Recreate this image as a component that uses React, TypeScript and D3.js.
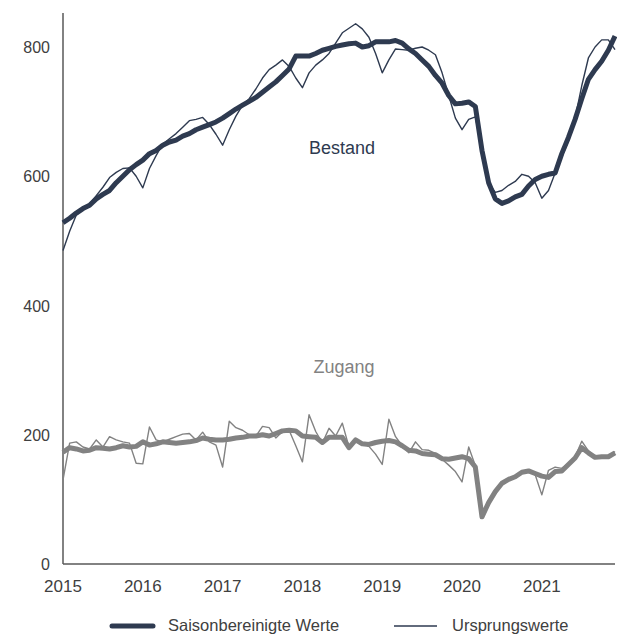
import React from 'react'
import * as d3 from 'd3'

// Monatswerte Jan 2015 - Dez 2021
const years = [2015, 2016, 2017, 2018, 2019, 2020, 2021]
const yTicks = [0, 200, 400, 600, 800]

const bestandSA = [
  528, 535, 543, 550, 555, 565, 572, 578, 590, 600, 610, 618,
  625, 635, 640, 648, 653, 656, 662, 666, 672, 676, 680, 684,
  690, 697, 704, 710, 716, 722, 730, 738, 746, 756, 766, 786,
  786, 786, 790, 795, 798, 801, 803, 805, 806, 800, 802, 808,
  808, 808, 810, 806, 797, 790, 780, 770, 756, 744, 725, 712,
  713, 715, 708, 640, 590, 565, 558, 562, 568, 572, 585, 595,
  600, 603, 605, 635, 660, 688, 720, 750, 765, 778, 795, 817,
]
const bestandNSA = [
  485, 515, 540, 550, 557, 570, 583, 598, 606, 612, 613, 600,
  582, 612, 632, 650, 658, 666, 676, 686, 688, 691, 680, 665,
  648, 672, 693, 710, 720, 735, 752, 765, 772, 780, 770, 752,
  737, 760, 772, 780, 790, 806, 822, 829, 836, 828, 815, 790,
  760, 780, 797, 796, 795, 798, 800, 795, 788, 760, 725, 690,
  672, 688, 692, 640, 590, 575, 578, 586, 592, 603, 600, 590,
  566, 578, 605, 630, 655, 690, 740, 783, 800, 811, 811, 796,
]
const zugangSA = [
  173, 180, 178, 175, 176, 180, 179, 178, 180, 183, 181, 182,
  189, 184, 186, 189, 188, 187, 188, 189, 191, 195, 193, 192,
  192, 193, 195, 196, 198, 198, 200, 198, 202, 206, 207, 206,
  198, 197, 196, 188, 196, 196, 196, 180, 192, 186, 185, 188,
  190, 191, 189, 183, 176, 175, 171, 170, 169, 163, 162, 164,
  166, 163, 150, 73, 95, 112, 125, 131, 135, 142, 144, 140,
  136, 134, 143, 144, 154, 164, 180, 172, 165, 166, 166, 172,
]
const zugangNSA = [
  130, 187, 189, 181, 178, 192, 181, 197, 192, 189, 187, 156,
  155, 212, 192, 189, 193, 197, 201, 202, 192, 204, 189, 184,
  150, 221, 211, 207, 200, 198, 213, 211, 195, 205, 207, 183,
  158, 231, 205, 187, 210, 198, 218, 181, 192, 187, 182, 170,
  154, 224, 197, 183, 172, 189, 177, 176, 171, 162, 153, 143,
  127, 181, 152, 73, 96, 113, 126, 132, 136, 143, 145, 138,
  107, 145, 150, 148, 156, 166, 190, 175, 166, 165, 165, 174,
]

const width = 617
const height = 635
const navy = '#2e3a50'
const grey = '#828282'
const textCol = '#404040'
const font = '"Liberation Sans", Arial, sans-serif'

export default function App() {
  const x = d3.scaleLinear().domain([0, bestandSA.length - 1]).range([63, 615])
  const y = d3.scaleLinear().domain([0, 800]).range([564, 47])

  const line = d3.line<number>()
    .x((d, i) => x(i))
    .y(d => y(d))

  return (
    <div>
      <style>{'body{margin:0}'}</style>
      <svg width={width} height={height} fontFamily={font} style={{ display: 'block' }}>
        <rect width={width} height={height} fill="#fff" />

        {/* Achsen */}
        <line x1={63} x2={63} y1={13} y2={564} stroke="#595959" strokeWidth={1.5} />
        <line x1={63} x2={615} y1={564} y2={564} stroke="#595959" strokeWidth={1.5} />

        {yTicks.map(t => (
          <text key={t} x={50} y={y(t) + 6} textAnchor="end" fontSize={16} fill={textCol}>{t}</text>
        ))}
        {years.map((yr, i) => (
          <text key={yr} x={x(i * 12)} y={592} textAnchor="middle" fontSize={17} fill={textCol}>{yr}</text>
        ))}

        {/* Zugang */}
        <path d={line(zugangSA) || ''} fill="none" stroke={grey} strokeWidth={5} strokeLinejoin="round" />
        <path d={line(zugangNSA) || ''} fill="none" stroke={grey} strokeWidth={1.4} strokeLinejoin="round" />

        {/* Bestand */}
        <path d={line(bestandSA) || ''} fill="none" stroke={navy} strokeWidth={5} strokeLinejoin="round" />
        <path d={line(bestandNSA) || ''} fill="none" stroke={navy} strokeWidth={1.4} strokeLinejoin="round" />

        <text x={342} y={154} textAnchor="middle" fontSize={18} fill={navy}>Bestand</text>
        <text x={344} y={373} textAnchor="middle" fontSize={18} fill={grey}>Zugang</text>

        {/* Legende */}
        <line x1={112} x2={153} y1={626} y2={626} stroke={navy} strokeWidth={5} strokeLinecap="round" />
        <text x={168} y={631} fontSize={16.5} fill={textCol}>Saisonbereinigte Werte</text>
        <line x1={394} x2={437} y1={626} y2={626} stroke={navy} strokeWidth={1.4} />
        <text x={452} y={631} fontSize={16.5} fill={textCol}>Ursprungswerte</text>
      </svg>
    </div>
  )
}
